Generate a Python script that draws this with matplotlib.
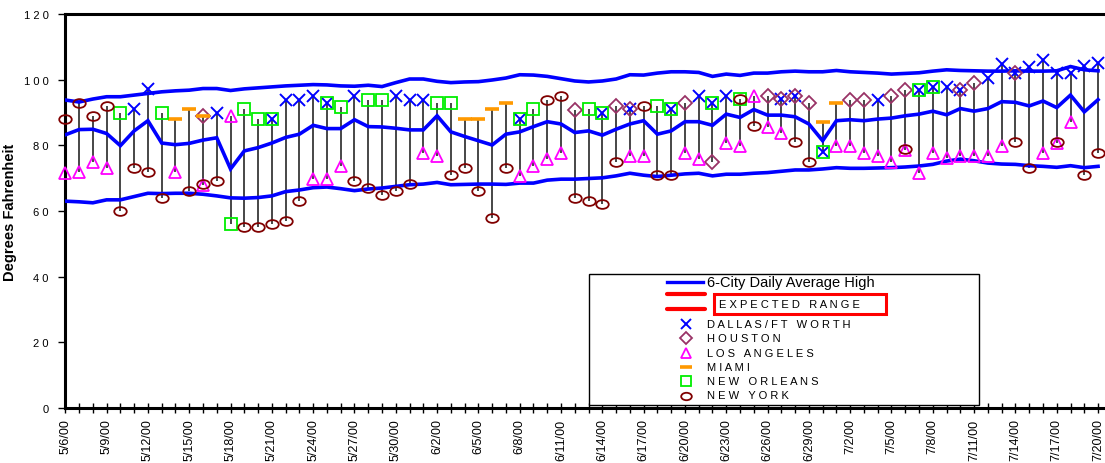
import numpy as np
import matplotlib
matplotlib.use("Agg")
import matplotlib.pyplot as plt
from matplotlib.path import Path
from matplotlib.transforms import Affine2D
from matplotlib.patches import Rectangle
from matplotlib.lines import Line2D

plt.rcParams['font.family'] = ['Liberation Sans', 'DejaVu Sans']

nan = np.nan

# x tick labels, one every 3 days starting 5/6/00
tick_labels = ['5/6/00', '5/9/00', '5/12/00', '5/15/00', '5/18/00', '5/21/00', '5/24/00',
               '5/27/00', '5/30/00', '6/2/00', '6/5/00', '6/8/00', '6/11/00', '6/14/00',
               '6/17/00', '6/20/00', '6/23/00', '6/26/00', '6/29/00', '7/2/00', '7/5/00',
               '7/8/00', '7/11/00', '7/14/00', '7/17/00', '7/20/00']

# expected range (upper / lower) and 6-city daily average high, one per day
upper = [93.8, 93.2, 94.1, 94.8, 94.8, 95.3, 95.8, 96.3, 96.6, 96.8, 97.3, 97.3, 96.7,
         97.2, 97.5, 97.8, 98.1, 98.3, 98.5, 98.4, 98.1, 98.0, 98.3, 97.9, 99.1, 100.2,
         100.2, 99.5, 99.1, 99.3, 99.4, 99.9, 100.5, 101.5, 101.4, 101.0, 100.3, 99.6,
         99.3, 99.6, 100.2, 101.5, 101.4, 102.0, 102.4, 102.4, 102.2, 101.0, 101.7, 101.3,
         102.0, 102.0, 102.4, 102.6, 102.4, 102.4, 102.8, 102.4, 102.2, 102.0, 101.7,
         101.9, 102.1, 102.6, 103.0, 102.8, 102.7, 102.6, 102.6, 102.7, 102.6, 102.6,
         102.7, 104.0, 103.0, 102.7]
average = [83.2, 84.8, 84.9, 83.6, 79.9, 84.4, 87.5, 80.7, 80.2, 80.6, 81.6, 82.3, 72.8,
           78.3, 79.3, 80.7, 82.4, 83.4, 86.1, 85.1, 85.1, 87.8, 85.7, 85.6, 85.2, 84.7,
           84.7, 89.0, 84.1, 82.7, 81.4, 80.1, 83.4, 84.1, 85.7, 87.2, 86.5, 83.9, 84.4,
           83.1, 84.9, 86.5, 87.5, 83.4, 84.4, 87.2, 87.2, 86.1, 89.5, 88.5, 90.9, 89.2,
           89.2, 88.7, 86.5, 81.4, 87.5, 87.8, 87.5, 88.0, 88.3, 89.0, 89.5, 90.4, 89.3,
           91.2, 90.4, 91.2, 93.3, 93.1, 92.0, 93.5, 91.5, 95.3, 90.2, 93.9]
lower = [63.0, 62.8, 62.5, 63.4, 63.4, 64.4, 65.4, 65.3, 65.4, 65.4, 65.1, 64.6, 64.0,
         63.9, 64.1, 64.6, 65.9, 66.4, 67.1, 67.3, 66.8, 66.2, 66.7, 67.0, 67.5, 68.0,
         68.2, 68.7, 68.0, 68.1, 68.2, 68.2, 68.1, 68.5, 68.5, 69.4, 69.7, 69.7, 69.9,
         70.1, 70.7, 71.5, 70.9, 70.5, 70.9, 71.3, 71.5, 70.7, 71.2, 71.2, 71.5, 71.7,
         72.1, 72.5, 72.5, 72.8, 73.2, 73.0, 73.0, 73.1, 73.2, 73.4, 73.7, 74.2, 75.2,
         75.8, 75.3, 74.6, 74.3, 74.2, 73.8, 73.6, 73.3, 73.8, 73.2, 73.6]

# city daily highs (nan = not shown that day)
dallas = [nan, nan, nan, nan, nan, 91.0, 97.1, nan, nan, nan, nan, 90.0, nan,
          nan, nan, 88.0, 93.9, 93.9, 94.9, 93.0, nan, 94.9, nan, nan, 94.9, 93.9,
          93.9, nan, nan, nan, nan, nan, nan, 88.0, nan, nan, nan, nan, nan,
          90.0, nan, 91.0, nan, nan, 91.0, nan, 95.1, 93.0, 95.1, nan, nan, nan,
          94.0, 95.0, nan, 78.0, nan, nan, nan, 93.9, nan, nan, 96.9, 97.9, 97.9,
          96.9, nan, 100.6, 104.7, 102.0, 104.0, 106.0, 102.0, 102.0, 104.2, 105.0]
houston = [nan, nan, nan, nan, nan, nan, nan, nan, nan, nan, 89.0, nan, nan,
           nan, nan, nan, nan, nan, nan, nan, nan, nan, nan, nan, nan, nan,
           nan, nan, nan, nan, nan, nan, nan, nan, nan, nan, nan, 90.9, nan,
           nan, 92.0, 91.0, nan, nan, nan, 93.0, nan, 74.8, nan, nan, nan, 94.9,
           94.1, 95.1, 93.0, nan, nan, 93.9, 93.9, nan, 94.9, 96.9, nan, nan, nan,
           96.9, 99.1, nan, nan, 102.0, nan, nan, nan, nan, nan, nan]
los_angeles = [71.5, 71.8, 74.8, 73.0, nan, nan, nan, nan, 71.8, nan, 67.9, nan, 88.8,
               nan, nan, nan, nan, nan, 69.7, 69.7, 73.8, nan, nan, nan, nan, nan,
               77.6, 76.8, nan, nan, nan, nan, nan, 70.7, 73.8, 75.8, 77.8, nan, nan,
               nan, nan, 76.8, 76.8, nan, nan, 77.8, 75.8, nan, 80.7, 79.9, 94.9, 85.7,
               83.9, nan, nan, nan, 79.9, 79.9, 77.6, 76.8, 74.8, 78.7, 71.7, 77.8, 76.0,
               76.8, 76.8, 76.8, 79.9, nan, nan, 77.8, 80.8, 87.0, nan, nan]
miami = [nan, nan, nan, nan, nan, nan, nan, nan, 88.0, 91.0, 89.0, nan, nan,
         nan, nan, nan, nan, nan, nan, nan, nan, nan, nan, nan, nan, nan,
         nan, nan, nan, 88.0, 88.0, 91.0, 93.0, nan, nan, nan, nan, nan, nan,
         nan, nan, nan, nan, nan, nan, nan, nan, nan, nan, nan, nan, nan,
         nan, nan, nan, 87.0, 93.0, nan, nan, nan, nan, nan, nan, nan, nan,
         nan, nan, nan, nan, nan, nan, nan, nan, nan, nan, nan]
new_orleans = [nan, nan, nan, nan, 90.0, nan, nan, 90.0, nan, nan, nan, nan, 56.0,
               91.0, 88.0, 88.0, nan, nan, nan, 93.0, 91.8, nan, 93.9, 93.9, nan, nan,
               nan, 93.0, 93.0, nan, nan, nan, nan, 88.0, 91.0, nan, nan, nan, 91.0,
               90.0, nan, nan, nan, 92.0, 91.0, nan, nan, 93.0, nan, 94.1, nan, nan,
               nan, nan, nan, 78.0, nan, nan, nan, nan, nan, nan, 96.9, 97.9, nan,
               nan, nan, nan, nan, nan, nan, nan, nan, nan, nan, nan]
new_york = [88.0, 93.0, 89.0, 92.0, 60.0, 73.1, 72.0, 64.1, nan, 66.0, 68.2, 69.0, nan,
            55.0, 55.0, 56.0, 57.0, 63.0, nan, nan, nan, 69.1, 67.1, 65.0, 66.1, 68.2,
            nan, nan, 70.9, 73.1, 66.0, 57.9, 73.1, nan, nan, 93.9, 95.1, 64.0, 63.0,
            62.1, 75.0, nan, 92.0, 70.9, 70.9, nan, nan, nan, nan, 94.0, 85.9, nan,
            nan, 81.1, 75.0, nan, nan, nan, nan, nan, nan, 79.0, nan, nan, nan,
            nan, nan, nan, nan, 81.1, 73.1, nan, 81.1, nan, 70.9, 77.8]

days = np.arange(len(upper))
W, H = 1105, 464


def fx(x):
    return x / W


def fy(y):
    return 1 - y / H


ellipse = Affine2D().scale(1, 0.7).transform_path(Path.unit_circle())

cities = [
    ('DALLAS/FT WORTH', dallas, dict(marker='x', color='#0000ff', ms=8.5, mew=1.4)),
    ('HOUSTON', houston, dict(marker='D', color='#993366', ms=7, mew=1.3)),
    ('LOS ANGELES', los_angeles, dict(marker='^', color='#ff00ff', ms=8.5, mew=1.3)),
    ('MIAMI', miami, dict(marker='_', color='#ff9900', ms=9.5, mew=2.6)),
    ('NEW ORLEANS', new_orleans, dict(marker='s', color='#00ee00', ms=8.5, mew=1.3)),
    ('NEW YORK', new_york, dict(marker=ellipse, color='#800000', ms=9, mew=1.3)),
]

fig = plt.figure(figsize=(W / 100, H / 100), dpi=100)
x_right = 76.5
ax = fig.add_axes([fx(65.3), fy(409), fx(65.3 + 13.77 * x_right) - fx(65.3), fy(15) - fy(409)])

# high-low bars across the cities for each day
table = np.array([c[1] for c in cities], dtype=float)
hi = np.nanmax(table, axis=0)
lo = np.nanmin(table, axis=0)
ax.vlines(days, lo, hi, color='#383838', lw=1.3, zorder=2)

for series in (upper, lower, average):
    ax.plot(days, series, color='#0000ff', lw=2.6, zorder=3, solid_joinstyle='miter')

for name, vals, st in cities:
    ax.plot(days, vals, linestyle='none', marker=st['marker'], ms=st['ms'],
            mfc='none', mec=st['color'], mew=st['mew'], zorder=4, clip_on=False)

ax.set_xlim(0, x_right)
ax.set_ylim(0, 120)
ax.set_yticks(range(0, 121, 20))
ax.set_yticklabels([' '.join(str(v)) for v in range(0, 121, 20)], fontsize=8)
ax.set_xticks(days[::3])
ax.set_xticks(days, minor=True)
ax.set_xticklabels(tick_labels, rotation=90, fontsize=9)
ax.tick_params(axis='y', direction='out', length=5, width=1, pad=7)
ax.tick_params(axis='x', which='both', direction='inout', length=7, width=1, pad=4)
for s in ('left', 'bottom', 'top'):
    ax.spines[s].set_linewidth(2.2)
ax.spines['right'].set_visible(False)
ax.set_ylabel('Degrees Fahrenheit', fontsize=10.5, fontweight='bold')
ax.yaxis.set_label_coords((17 - 65.3) / (13.77 * x_right), 0.5)

# legend box drawn by hand
fig.patches.append(Rectangle((fx(589), fy(406)), fx(979) - fx(589), fy(275) - fy(406),
                             transform=fig.transFigure, fc='white', ec='black', lw=1, zorder=5))
fig.lines.append(Line2D([fx(667), fx(703)], [fy(283), fy(283)], color='#0000ff', lw=2.4,
                        transform=fig.transFigure, zorder=6))
fig.text(fx(707), fy(283.5), '6-City Daily Average High', fontsize=10.5, va='center', zorder=6)
for yy in (295.3, 310):
    fig.lines.append(Line2D([fx(667), fx(705)], [fy(yy), fy(yy)], color='#ff0000', lw=3,
                            solid_capstyle='round', transform=fig.transFigure, zorder=6))
fig.patches.append(Rectangle((fx(713.5), fy(315)), fx(886) - fx(713.5), fy(294.5) - fy(315),
                             transform=fig.transFigure, fc='none', ec='#ff0000', lw=2.2, zorder=6))
fig.text(fx(719), fy(304.5), ' '.join('EXPECTED RANGE'), fontsize=8, va='center', zorder=7)

for i, (name, vals, st) in enumerate(cities):
    yy = 325 + i * 14.3
    fig.lines.append(Line2D([fx(686)], [fy(yy)], linestyle='none', marker=st['marker'],
                            ms=st['ms'] * 0.85, mfc='none', mec=st['color'], mew=st['mew'],
                            transform=fig.transFigure, zorder=6))
    fig.text(fx(707), fy(yy), ' '.join(name), fontsize=8, va='center', zorder=7)

fig.savefig('out.png', dpi=100)
